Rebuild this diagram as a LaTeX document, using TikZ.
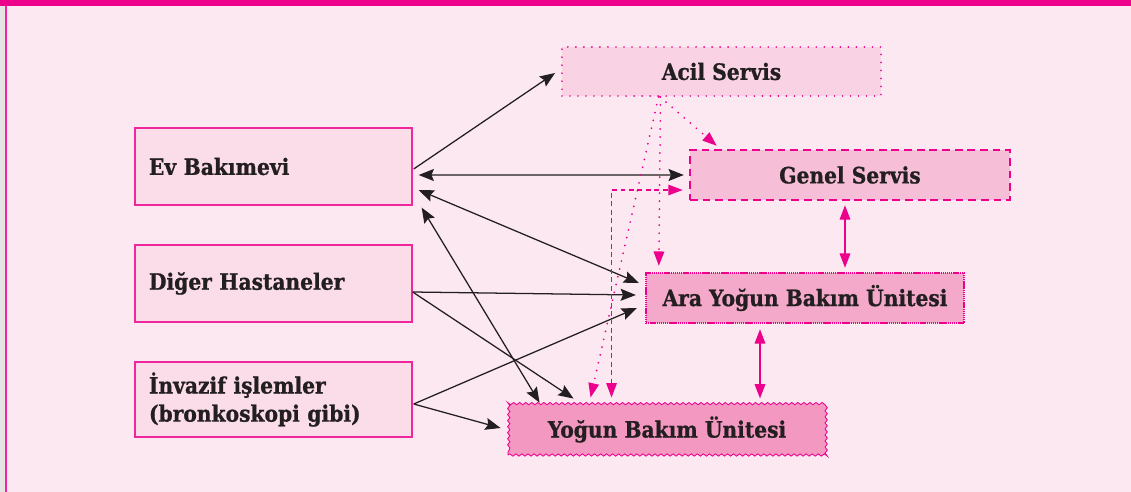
\documentclass[tikz,border=0pt]{standalone}
\usepackage{fontspec}
\setmainfont{DejaVu Serif Condensed}[BoldFeatures={FakeBold=0.9}]
\usetikzlibrary{positioning, calc, arrows.meta, decorations.pathmorphing}
\tikzset{>=latex}
\definecolor{pink_bg}{HTML}{FCE8F1}
\definecolor{magenta_line}{HTML}{EC008C}
\definecolor{ink}{HTML}{231F20}
\definecolor{fill_left}{HTML}{FBDCE9}
\definecolor{fill_acil}{HTML}{F9D2E4}
\definecolor{fill_genel}{HTML}{F7BED7}
\definecolor{fill_ara}{HTML}{F4A9CB}
\definecolor{fill_yogun}{HTML}{F298C1}
\tikzset{
    bk/.tip={Stealth[length=3.8mm, width=3mm, inset=0.6mm]},
    pk/.tip={Triangle[length=3.6mm, width=2.6mm]},
}

\begin{document}
\begin{tikzpicture}
    [
        x=0.025cm, y=-0.025cm,
        font=\fontsize{16}{20}\selectfont\bfseries, text=ink,
        left_box/.style={rectangle, draw=magenta_line!85, fill=fill_left, line width=0.9pt, minimum height=1.925cm, text width=6.225cm, inner xsep=0.35cm, align=left},
        acil_box/.style={rectangle, draw=magenta_line, fill=fill_acil, line width=1.3pt, line cap=round, dash pattern=on 0pt off 5.7pt, minimum width=7.975cm, minimum height=1.225cm},
        genel_box/.style={rectangle, draw=magenta_line, fill=fill_genel, line width=1.7pt, dash pattern=on 5.5pt off 3.5pt, minimum width=8cm, minimum height=1.25cm},
        ara_box/.style={rectangle, draw=magenta_line, fill=fill_ara, line width=1.6pt, dash pattern=on 1pt off 0.5pt, minimum width=7.95cm, minimum height=1.25cm},
        yogun_box/.style={rectangle, draw=magenta_line, fill=fill_yogun, line width=0.6pt, decorate, decoration={snake, segment length=4.3pt, amplitude=0.8pt}, minimum width=7.95cm, minimum height=1.275cm},
        blk_arrow/.style={draw=ink, line width=0.9pt},
        pnk_dots/.style={draw=magenta_line, line width=1.4pt, line cap=round, dash pattern=on 0pt off 5.7pt},
        pnk_dash/.style={draw=magenta_line, line width=1pt, dash pattern=on 3.5pt off 2.5pt},
        pnk_solid/.style={draw=magenta_line, line width=1.4pt},
    ]

  % frame
  \fill[pink_bg] (0,0) rectangle (1131,492);
  \fill[black!10] (0,0) rectangle (5,492);
  \fill[magenta_line!85] (5,0) rectangle (7,492);
  \fill[magenta_line] (0,0) rectangle (1131,6);

  \node[left_box] (ev) at (273.5,166.5) {Ev Bakımevi};
  \node[left_box] (diger) at (273.5,283.5) {Diğer Hastaneler};
  \node[left_box, minimum height=1.875cm] (invazif) at (273.5,399.5) {İnvazif işlemler\\(bronkoskopi gibi)};

  \node[acil_box] (acil) at (721.5,71.5) {Acil Servis};
  \node[genel_box] (genel) at (850,175) {Genel Servis};
  \node[ara_box] (ara) at (805,298) {Ara Yoğun Bakım Ünitesi};
  \node[yogun_box] (yogun) at (667,429.5) {Yoğun Bakım Ünitesi};

  \draw[blk_arrow, -bk] ([shift={(1,2.5)}]ev.east) -- ([shift={(-6,1.5)}]acil.west);
  \draw[blk_arrow, bk-bk] ([shift={(6,8.5)}]ev.east) -- ([shift={(-5,0)}]genel.west);
  \draw[blk_arrow, bk-bk] ([shift={(6,23.5)}]ev.east) -- ([shift={(-6,-15)}]ara.west);
  \draw[blk_arrow, bk-bk] ([shift={(9,2)}]ev.south east) -- ([shift={(32,-1)}]yogun.north west);
  \draw[blk_arrow, -bk] ([shift={(0,8.5)}]diger.east) -- ([shift={(-9,-3)}]ara.west);
  \draw[blk_arrow, -bk] ([shift={(0,8.5)}]diger.east) -- ([shift={(66,-5)}]yogun.north west);
  \draw[blk_arrow, -bk] ([shift={(1,4.5)}]invazif.east) -- ([shift={(-8,10)}]ara.west);
  \draw[blk_arrow, -bk] ([shift={(1,4.5)}]invazif.east) -- ([shift={(-7,-1.5)}]yogun.west);

  \draw[pnk_dots, -pk] ([shift={(-61.5,0)}]acil.south) -- ([shift={(28,-3)}]genel.north west);
  \draw[pnk_dots, -pk] ([shift={(-61,0)}]acil.south) -- ([shift={(14,-6)}]ara.north west);
  \draw[pnk_dots, -pk] ([shift={(-63,0)}]acil.south) -- ([shift={(83,-6)}]yogun.north west);
  \draw[pnk_dash, pk-pk] ([shift={(104,-6)}]yogun.north west) |- ([shift={(-6,15)}]genel.west);

  \draw[pnk_solid, pk-pk] ([shift={(-5,4)}]genel.south) -- ([shift={(40,-4)}]ara.north);
  \draw[pnk_solid, pk-pk] ([shift={(-45,5)}]ara.south) -- ([shift={(93,-5)}]yogun.north);
\end{tikzpicture}
\end{document}
